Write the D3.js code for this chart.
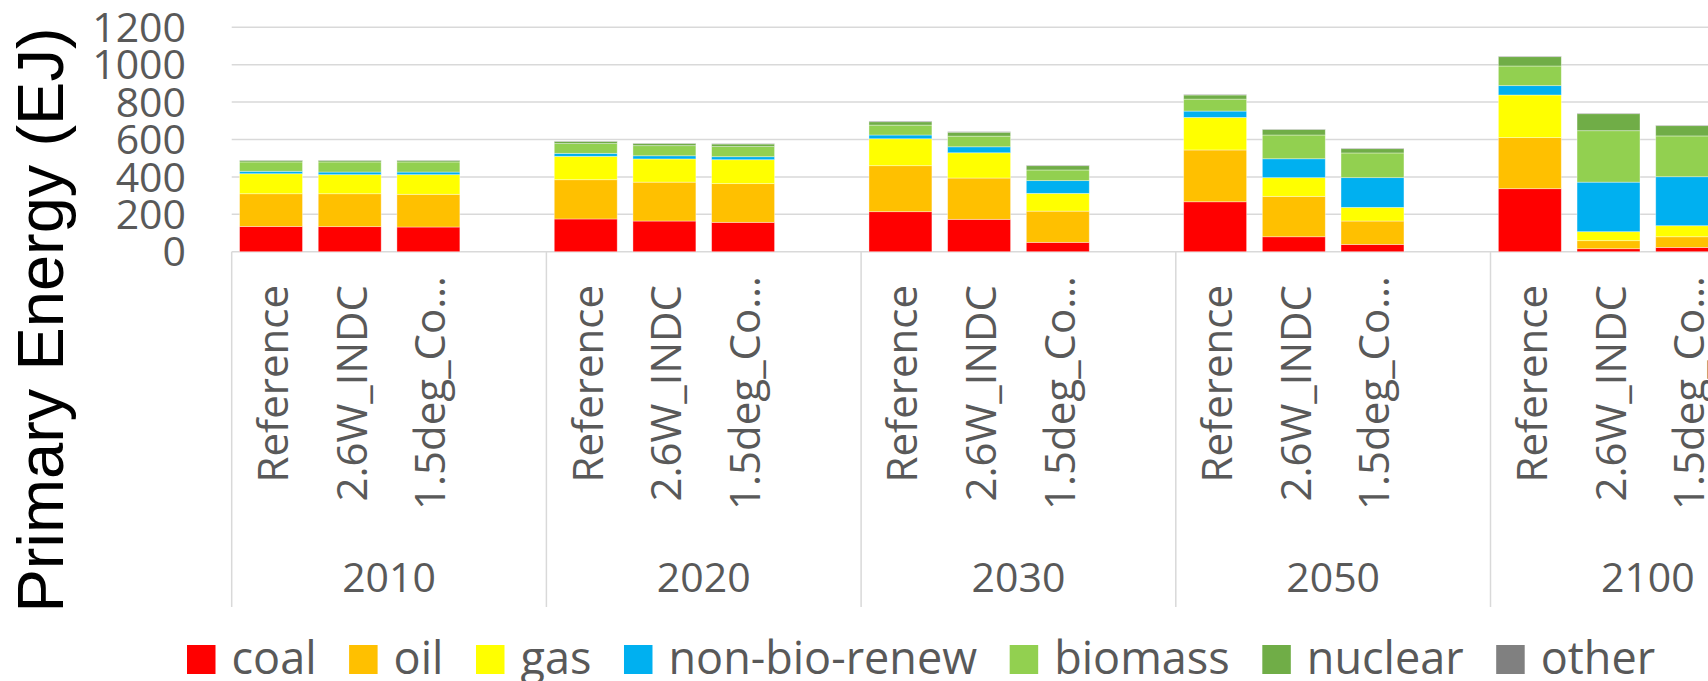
<!DOCTYPE html>
<html>
<head>
<meta charset="utf-8">
<script src="https://cdn.jsdelivr.net/npm/d3@7"></script>
<style>
  html, body { margin: 0; padding: 0; background: #ffffff; overflow: hidden; }
  svg { display: block; }
</style>
</head>
<body>
<svg id="chart" width="1708" height="681"></svg>
<script>
// ---------------- DATA ----------------
const years = ["2010", "2020", "2030", "2050", "2100"];
const scenarios = ["Reference", "2.6W_INDC", "1.5deg_Co\u2026"];
const seriesNames = ["coal", "oil", "gas", "non-bio-renew", "biomass", "nuclear", "other"];
const seriesColors = ["#FF0000", "#FFC000", "#FFFF00", "#00B0F0", "#92D050", "#70AD47", "#808080"];
const yTicks = [0, 200, 400, 600, 800, 1000, 1200];
const yTitle = "Primary Energy (EJ)";

// values in bar order: year-major, scenario-minor (Reference, 2.6W_INDC, 1.5deg_Co…)
const coal    = [135, 134, 132, 175, 164, 157, 214, 173,  50, 267,  80,  39, 337,  16,  23];
const oil     = [175, 176, 175, 210, 208, 207, 246, 221, 167, 277, 216, 125, 273,  43,  57];
const gas     = [107, 102, 105, 125, 124, 128, 144, 135,  95, 174, 100,  73, 228,  48,  59];
const nonBio  = [ 13,  14,  14,  16,  17,  16,  20,  32,  68,  34, 101, 159,  50, 265, 262];
const biomass = [ 50,  54,  54,  52,  54,  54,  53,  57,  57,  64, 127, 132, 105, 275, 218];
const nuclear = [  8,   8,   8,  12,  12,  14,  18,  21,  23,  22,  30,  23,  50,  91,  55];
const other   = [  2,   2,   2,   2,   2,   2,   4,   3,   3,   3,   2,   3,   3,   3,   3];

const seriesValues = [coal, oil, gas, nonBio, biomass, nuclear, other];

// ---------------- LAYOUT ----------------
const W = 1708, H = 681;
const plotLeft = 231.7;
const groupW = 314.7;
const yBase = 251.7, yTop = 27.3;
const gridColor = "#d9d9d9";
const textColor = "#595959";
const font = "'Open Sans', 'DejaVu Sans', sans-serif";

const svg = d3.select("#chart");

const rows = [];
years.forEach((yr, i) => {
  scenarios.forEach((sc, j) => {
    const r = { year: yr, scenario: sc };
    seriesNames.forEach((s, k) => { r[s] = seriesValues[k][i * scenarios.length + j]; });
    rows.push(r);
  });
});

const x0 = d3.scaleBand().domain(years)
  .range([plotLeft, plotLeft + groupW * years.length]).padding(0);
// each group holds the three scenarios plus one empty slot
const x1 = d3.scaleBand().domain(scenarios)
  .range([0, groupW * 3 / 4]).paddingInner(0.2).paddingOuter(0.1);
const y = d3.scaleLinear().domain([0, 1200]).range([yBase, yTop]);
const color = d3.scaleOrdinal().domain(seriesNames).range(seriesColors);

// gridlines
svg.append("g").selectAll("line").data(yTicks).join("line")
  .attr("x1", plotLeft).attr("x2", W + 200)
  .attr("y1", d => y(d)).attr("y2", d => y(d))
  .attr("stroke", gridColor).attr("stroke-width", 1.5);

// y tick labels
svg.append("g").selectAll("text").data(yTicks).join("text")
  .attr("x", 186).attr("y", d => y(d)).attr("dy", "0.36em")
  .attr("text-anchor", "end")
  .attr("font-family", font).attr("font-size", 41)
  .attr("fill", textColor)
  .text(d => d);

// y axis title
svg.append("text")
  .attr("transform", `translate(63,320) rotate(-90)`)
  .attr("text-anchor", "middle")
  .attr("font-family", "'Liberation Sans', Arial, sans-serif")
  .attr("font-size", 65)
  .attr("fill", "#000000")
  .text(yTitle);

// group separators
const sepXs = years.map(d => x0(d)).concat([x0(years[years.length - 1]) + x0.bandwidth()]);
svg.append("g").selectAll("line").data(sepXs).join("line")
  .attr("x1", d => d).attr("x2", d => d)
  .attr("y1", yBase).attr("y2", 607)
  .attr("stroke", gridColor).attr("stroke-width", 1.5);

// stacked bars
const stack = d3.stack().keys(seriesNames);
const stacked = stack(rows);
const barG = svg.append("g");
barG.selectAll("g").data(stacked).join("g")
  .attr("fill", d => color(d.key))
  .selectAll("rect").data(d => d).join("rect")
  .attr("x", d => x0(d.data.year) + x1(d.data.scenario))
  .attr("width", x1.bandwidth())
  .attr("y", d => y(d[1]))
  .attr("height", d => Math.max(0, y(d[0]) - y(d[1])))
  .attr("stroke", "rgba(255,255,255,0.45)")
  .attr("stroke-width", 0.8);

// scenario labels (rotated)
const labelG = svg.append("g");
rows.forEach(r => {
  const cx = x0(r.year) + x1(r.scenario) + x1.bandwidth() / 2;
  const t = labelG.append("text")
    .attr("text-anchor", "end")
    .attr("font-family", font).attr("font-size", 42)
    .attr("fill", textColor)
    .text(r.scenario);
  const len = t.node().getComputedTextLength();
  const top = Math.min(285, 510 - len);
  t.attr("transform", `translate(${cx + 17},${top}) rotate(-90)`);
});

// year labels
svg.append("g").selectAll("text").data(years).join("text")
  .attr("x", d => x0(d) + x0.bandwidth() / 2)
  .attr("y", 591.7)
  .attr("text-anchor", "middle")
  .attr("font-family", font).attr("font-size", 41)
  .attr("fill", textColor)
  .text(d => d);

// legend
const legend = svg.append("g");
let lx = 187;
seriesNames.forEach((s, k) => {
  legend.append("rect")
    .attr("x", lx).attr("y", 645).attr("width", 28.5).attr("height", 29)
    .attr("fill", seriesColors[k]);
  const t = legend.append("text")
    .attr("x", lx + 28.5 + 16).attr("y", 674)
    .attr("font-family", font).attr("font-size", 45)
    .attr("fill", textColor)
    .text(s);
  lx = lx + 28.5 + 16 + t.node().getComputedTextLength() + 32.6;
});
</script>
</body>
</html>
